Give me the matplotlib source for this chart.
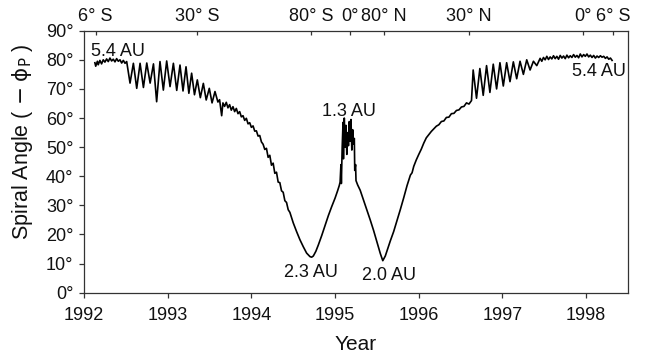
import matplotlib
matplotlib.use("Agg")
import matplotlib.pyplot as plt

plt.rcParams['font.family'] = ['Liberation Sans', 'DejaVu Sans']
plt.rcParams['mathtext.fontset'] = 'dejavusans'

# values (decimal year, spiral angle in degrees)
year = [
    1992.13, 1992.14, 1992.16, 1992.17, 1992.19, 1992.21, 1992.23, 1992.25, 1992.27, 1992.29,
    1992.31, 1992.33, 1992.35, 1992.37, 1992.39, 1992.41, 1992.43, 1992.45, 1992.47, 1992.49,
    # solar-rotation wiggles, southern descent
    1992.51, 1992.55, 1992.59, 1992.63, 1992.67, 1992.71, 1992.75, 1992.79, 1992.83, 1992.868,
    1992.908, 1992.948, 1992.988, 1993.028, 1993.068, 1993.108, 1993.147, 1993.183, 1993.219, 1993.253,
    1993.286, 1993.32, 1993.354, 1993.39, 1993.426, 1993.46, 1993.497, 1993.53, 1993.565, 1993.60,
    1993.62, 1993.645, 1993.66, 1993.68, 1993.70, 1993.72, 1993.74, 1993.76, 1993.78, 1993.80,
    1993.82, 1993.84, 1993.86, 1993.88, 1993.90, 1993.92, 1993.94, 1993.96, 1993.98, 1994.00,
    1994.02, 1994.04, 1994.06, 1994.08, 1994.10, 1994.12, 1994.14, 1994.16, 1994.18, 1994.20,
    1994.22, 1994.24, 1994.26, 1994.28, 1994.30, 1994.32, 1994.34, 1994.36, 1994.38, 1994.40,
    1994.42, 1994.44, 1994.46, 1994.50, 1994.54, 1994.58, 1994.62, 1994.66, 1994.70, 1994.72,
    1994.74, 1994.77, 1994.80, 1994.84, 1994.88, 1994.92, 1994.96, 1995.00, 1995.03, 1995.05,
    1995.06,
    # perihelion / fast latitude scan
    1995.07, 1995.075, 1995.085, 1995.095, 1995.10, 1995.11, 1995.12, 1995.13, 1995.14, 1995.15,
    1995.16, 1995.17, 1995.18, 1995.19, 1995.20, 1995.21, 1995.22, 1995.23, 1995.235, 1995.245,
    1995.25, 1995.27, 1995.30, 1995.34, 1995.38, 1995.42, 1995.46, 1995.50, 1995.54, 1995.57,
    1995.60, 1995.63, 1995.66, 1995.70, 1995.74, 1995.78, 1995.82, 1995.86, 1995.90, 1995.92,
    1995.94, 1995.97, 1996.00, 1996.03, 1996.06, 1996.09, 1996.12, 1996.15, 1996.18, 1996.21,
    1996.24, 1996.27, 1996.30, 1996.33, 1996.36, 1996.39, 1996.42, 1996.45, 1996.48, 1996.51,
    1996.54, 1996.57, 1996.60, 1996.63,
    # northern wiggles
    1996.65, 1996.69, 1996.73, 1996.77, 1996.81, 1996.85, 1996.89, 1996.93, 1996.97, 1997.01,
    1997.05, 1997.09, 1997.13, 1997.17, 1997.21, 1997.25, 1997.29, 1997.33, 1997.37, 1997.41,
    # plateau back out at 5.4 AU
    1997.45, 1997.47, 1997.49, 1997.51, 1997.53, 1997.55, 1997.57, 1997.59, 1997.61, 1997.63,
    1997.65, 1997.67, 1997.69, 1997.71, 1997.73, 1997.75, 1997.77, 1997.79, 1997.81, 1997.83,
    1997.85, 1997.87, 1997.89, 1997.91, 1997.93, 1997.95, 1997.97, 1997.99, 1998.01, 1998.03,
    1998.05, 1998.07, 1998.09, 1998.11, 1998.13, 1998.15, 1998.17, 1998.19, 1998.21, 1998.23,
    1998.25, 1998.27, 1998.29, 1998.31,
]
spiral_angle = [
    79.0, 77.8, 79.5, 78.3, 79.8, 78.6, 80.0, 79.2, 80.3, 79.4,
    80.6, 79.6, 80.2, 79.3, 80.4, 79.5, 80.0, 78.9, 79.8, 78.8,
    79.4, 72.0, 78.8, 70.2, 78.8, 70.5, 78.9, 72.0, 78.6, 65.6,
    79.4, 69.6, 79.6, 70.8, 78.8, 69.5, 78.2, 69.3, 77.6, 68.5,
    75.4, 68.0, 73.1, 67.0, 71.9, 66.2, 70.2, 65.2, 69.1, 65.5,
    66.3, 60.8, 65.2, 64.0, 65.4, 63.5, 64.6, 62.7, 63.9, 62.2,
    63.3, 61.5, 62.2, 60.4, 60.8, 59.2, 59.9, 58.0, 58.4, 56.8,
    57.3, 55.5, 55.6, 53.8, 54.0, 51.8, 51.0, 49.2, 49.6, 46.5,
    47.2, 43.8, 44.5, 41.0, 41.4, 38.0, 37.8, 35.0, 34.5, 31.6,
    31.0, 28.5, 27.6, 24.0, 21.0, 18.2, 15.8, 13.6, 12.4, 12.2,
    12.6, 14.2, 16.4, 19.6, 23.0, 26.5, 29.6, 32.5, 35.0, 36.8,
    38.0,
    44.0, 37.5, 50.0, 58.5, 46.0, 60.0, 50.0, 57.5, 47.5, 55.0,
    50.5, 58.8, 52.0, 59.5, 49.0, 56.0, 51.0, 53.0, 42.0, 44.0,
    38.5, 37.0, 35.2, 31.8, 28.3, 25.0, 21.4, 17.4, 13.5, 11.0,
    12.6, 15.2, 17.8, 21.0, 24.8, 28.6, 32.6, 36.8, 40.4, 41.2,
    43.4, 45.6, 47.5, 49.3, 51.4, 53.2, 54.3, 55.4, 56.3, 57.2,
    57.7, 58.8, 59.0, 60.2, 60.3, 61.5, 61.6, 62.6, 62.8, 63.8,
    64.0, 65.2, 64.8, 66.0,
    76.5, 66.8, 77.0, 67.8, 78.0, 68.8, 78.5, 70.0, 79.0, 71.0,
    79.0, 72.5, 79.3, 73.5, 79.5, 75.0, 80.0, 76.5, 79.5, 78.0,
    80.5, 79.5, 80.8, 80.0, 81.2, 80.1, 81.0, 80.3, 81.4, 80.4,
    81.2, 80.2, 81.5, 80.6, 81.3, 80.4, 81.6, 80.7, 81.4, 80.8,
    81.8, 80.9, 81.5, 80.7, 82.0, 81.0, 81.8, 81.2, 82.0, 81.0,
    81.6, 80.8, 81.5, 80.6, 81.3, 80.8, 81.4, 80.9, 81.2, 80.5,
    81.0, 80.2, 80.6, 79.8,
]

year_ticks = [1992, 1993, 1994, 1995, 1996, 1997, 1998]
angle_ticks = [0, 10, 20, 30, 40, 50, 60, 70, 80, 90]

# heliographic latitude of the spacecraft along the top axis
lat_years = [1992.14, 1993.35, 1994.71, 1995.18, 1995.58, 1996.60, 1997.96, 1998.32]
lat_labels = ["6° S", "30° S", "80° S", "0°", "80° N", "30° N", "0°", "6° S"]

# radial distance notes
dist_labels = ["5.4 AU", "2.3 AU", "1.3 AU", "2.0 AU", "5.4 AU"]
dist_x = [1992.08, 1994.716, 1995.164, 1995.65, 1998.475]
dist_y = [81.4, 5.5, 60.7, 4.4, 74.4]
dist_ha = ["left", "center", "center", "center", "right"]

fig = plt.figure(figsize=(6.45, 3.53), dpi=100)
ax = fig.add_axes([84 / 645, 1 - 292.7 / 353, 544 / 645, 262 / 353])

ax.plot(year, spiral_angle, color='black', lw=1.2)

ax.set_xlim(1992, 1998.5)
ax.set_ylim(0, 90)
ax.set_xticks(year_ticks)
ax.set_xticklabels([str(y) for y in year_ticks])
ax.set_yticks(angle_ticks)
ax.set_yticklabels([f"{a}°" for a in angle_ticks])
ax.tick_params(axis='both', direction='out', length=3.6, width=0.9, color='#333333',
               labelsize=13, labelcolor='#111111')
ax.tick_params(axis='x', pad=7)
ax.tick_params(axis='y', pad=4)

for s in ax.spines.values():
    s.set_color('#333333')
    s.set_linewidth(0.9)

top = ax.twiny()
top.set_xlim(ax.get_xlim())
top.set_xticks(lat_years)
top.set_xticklabels(lat_labels)
top.tick_params(axis='x', direction='in', length=3.2, width=0.9, color='#333333',
                labelsize=13, labelcolor='#111111', pad=4)
for s in top.spines.values():
    s.set_visible(False)

for lbl, x, y, ha in zip(dist_labels, dist_x, dist_y, dist_ha):
    ax.text(x, y, lbl, ha=ha, va='baseline', fontsize=13, color='#111111')

fig.text(356 / 645, 1 - 350 / 353, "Year", ha='center', va='baseline',
         fontsize=15, color='#111111')
fig.text(22.5 / 645, 1 - 142 / 353, r"Spiral Angle ( $-\;\mathrm{\phi}_{\mathrm{P}}$ )", rotation=90,
         ha='center', va='center', fontsize=15.5, color='#111111')

fig.savefig("out.png", dpi=100)
